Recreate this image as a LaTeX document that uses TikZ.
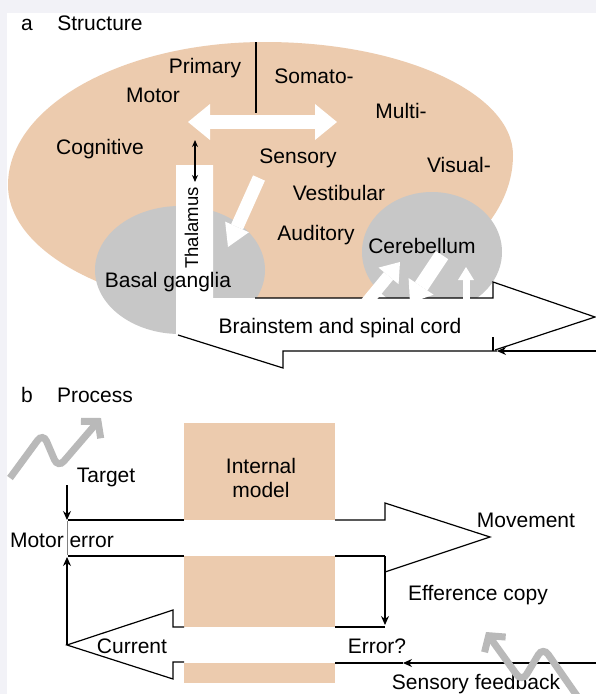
\documentclass[tikz,border=0pt]{standalone}
\usepackage{fontspec}
\setmainfont{Liberation Sans}
\usetikzlibrary{arrows.meta}
\definecolor{tanc}{RGB}{236,203,174}
\definecolor{blobc}{RGB}{199,199,199}
\definecolor{squigc}{RGB}{185,185,185}
\definecolor{marginc}{RGB}{242,242,247}
\begin{document}
\begin{tikzpicture}[x=1pt,y=-1pt,
  lbl/.style={font=\fontsize{21}{25}\selectfont, inner sep=0pt, anchor=base},
  ln/.style={line width=1.2pt, black},
  tip/.style={-{Stealth[length=9pt,width=8pt]}},
  blockarrow/.style n args={3}{white, line width=#1,
     -{Triangle[length=#2,width=#3,line width=0pt]}},
  squig/.style={squigc, line width=7pt, rounded corners=9pt,
     -{Straight Barb[length=11pt,width=26pt]}}]
\useasboundingbox (0,0) rectangle (596,694);
\fill[marginc] (0,0) rectangle (596,694);
\fill[white] (7,13) rectangle (596,694);

% ---------- part a ----------
\coordinate (eT) at (265,42);
\coordinate (eR) at (513,155);
\coordinate (eB) at (262,312);
\coordinate (eL) at (8,185);
\fill[tanc] (eT) .. controls (402,42) and (513,93) .. (eR)
  .. controls (513,242) and (401,312) .. (eB)
  .. controls (122,312) and (8,255) .. (eL)
  .. controls (8,106) and (123,42) .. (eT) -- cycle;
\fill[blobc] (180,270) ellipse [x radius=85pt, y radius=64pt];
\fill[blobc] (432,252) ellipse [x radius=70pt, y radius=60pt];

\coordinate (thTL) at (176,165);
\coordinate (thTR) at (213,165);
\coordinate (bsA) at (213,298);
\coordinate (bsB) at (493,298);
\coordinate (bsC) at (493,282);
\coordinate (bsTip) at (595,317);
\coordinate (bsD) at (497,351);
\coordinate (bsE) at (283,351);
\coordinate (bsF) at (283,368);
\coordinate (bsLTip) at (178,335);
\coordinate (bsG) at (176,335);
\fill[white] (thTL) -- (thTR) -- (bsA) -- (bsB) -- (bsC) -- (bsTip) -- (bsD)
  -- (bsE) -- (bsF) -- (bsLTip) -- (bsG) -- cycle;

\coordinate (divTop) at (256,42);
\coordinate (divBot) at (256,113);
\draw[ln] (divTop) -- (divBot);

\coordinate (topStart) at (255,298);
\draw[ln] (topStart) -- (bsB) -- (bsC) -- (bsTip) -- (495,350);
\draw[ln] (bsLTip) -- (bsF) -- (bsE) -- (bsD);
\coordinate (fbIn) at (596,351);
\draw[ln,tip] (fbIn) -- (bsD);
\coordinate (tickTop) at (493,337);
\coordinate (tickBot) at (493,351);
\draw[ln] (tickTop) -- (tickBot);

% white arrows
\coordinate (haL) at (188,122);
\coordinate (haR) at (337,122);
\draw[white, line width=14pt,
  {Triangle[length=22pt,width=36pt,line width=0pt]}-{Triangle[length=22pt,width=36pt,line width=0pt]}]
  (haL) -- (haR);
\coordinate (sbS) at (259,178);
\coordinate (sbT) at (228,247);
\draw[blockarrow={13pt}{22pt}{26pt}] (sbS) -- (sbT);
\coordinate (c1S) at (362,308);
\coordinate (c1T) at (400,262);
\draw[blockarrow={12pt}{18pt}{26pt}] (c1S) -- (c1T);
\coordinate (c2S) at (442,255);
\coordinate (c2T) at (410,303);
\draw[blockarrow={15pt}{20pt}{30pt}] (c2S) -- (c2T);
\coordinate (c3S) at (466,305);
\coordinate (c3T) at (466,267);
\draw[blockarrow={7pt}{13pt}{16pt}] (c3S) -- (c3T);

\coordinate (thU) at (195,140);
\coordinate (thD) at (195,182);
\draw[line width=1.2pt, {Stealth[length=7pt,width=6pt]}-{Stealth[length=7pt,width=6pt]}] (thU) -- (thD);

\node[lbl] (la) at (27,30) {a};
\node[lbl] (structure) at (100,30) {Structure};
\node[lbl] (primary) at (205,73) {Primary};
\node[lbl] (motor) at (153,102) {Motor};
\node[lbl] (cognitive) at (100,154) {Cognitive};
\node[lbl] (somato) at (314,83) {Somato-};
\node[lbl] (multi) at (401,118) {Multi-};
\node[lbl] (visual) at (459,172) {Visual-};
\node[lbl] (sensory) at (298,163) {Sensory};
\node[lbl] (vestibular) at (339,200) {Vestibular};
\node[lbl] (auditory) at (316,240) {Auditory};
\node[lbl] (cerebellum) at (422,253) {Cerebellum};
\node[lbl] (basal) at (168,287) {Basal ganglia};
\node[lbl, font=\fontsize{18.5}{22}\selectfont, rotate=90] (thalamus) at (198,228) {Thalamus};
\node[lbl] (brainstem) at (340,333) {Brainstem and spinal cord};

% ---------- part b ----------
\fill[tanc] (184,423) rectangle (335,520);
\fill[tanc] (184,556) rectangle (335,627);
\fill[tanc] (184,663) rectangle (335,683);

\coordinate (mA) at (68,520);
\coordinate (mB) at (184,520);
\coordinate (mC) at (335,520);
\coordinate (mD) at (385,520);
\coordinate (mE) at (385,503);
\coordinate (mTip) at (490,537);
\coordinate (mF) at (385,572);
\coordinate (nA) at (68,556);
\coordinate (nB) at (184,556);
\coordinate (nC) at (335,556);
\coordinate (nD) at (385,556);
\coordinate (efT) at (385,625);
\coordinate (pA) at (335,627);
\coordinate (pB) at (385,627);
\draw[ln] (mA) -- (mB);
\draw[ln] (mC) -- (mD) -- (mE) -- (mTip) -- (mF);
\draw[ln] (nA) -- (nB);
\draw[ln] (nC) -- (nD);
\draw[ln,tip] (nD) -- (efT);
\draw[ln] (pA) -- (pB);

\coordinate (erIn) at (596,663);
\coordinate (erMid) at (403,663);
\coordinate (erEnd) at (335,663);
\draw[ln,tip] (erIn) -- (erMid);
\draw[ln] (erMid) -- (erEnd);

\coordinate (cA) at (184,627);
\coordinate (cB) at (173,627);
\coordinate (cC) at (173,610);
\coordinate (cTip) at (67,645);
\coordinate (cD) at (173,679);
\coordinate (cE) at (173,662);
\coordinate (cF) at (184,662);
\draw[ln] (cA) -- (cB) -- (cC) -- (cTip) -- (cD) -- (cE) -- (cF);
\coordinate (upEnd) at (67,557);
\draw[ln,tip] (cTip) -- (upEnd);
\coordinate (tgS) at (67,485);
\coordinate (tgE) at (67,520);
\draw[ln,tip] (tgS) -- (tgE);
\coordinate (meA) at (67,521);
\coordinate (meB) at (67,555);

\node[lbl] (lb) at (27,402) {b};
\node[lbl] (process) at (95,402) {Process};
\node[lbl] (target) at (106,482) {Target};
\node[lbl] (internal) at (261,473) {Internal};
\node[lbl] (model) at (261,497) {model};
\node[lbl] (motorerror) at (62,547) {Motor error};
\draw[gray, line width=0.7pt] (meA) -- (meB);
\node[lbl] (movement) at (526,527) {Movement};
\node[lbl] (efference) at (478,600) {Efference copy};
\node[lbl] (errorq) at (377,653) {Error?};
\node[lbl] (current) at (132,653) {Current};
\node[lbl] (sensoryfb) at (476,689) {Sensory feedback};

\coordinate (s1a) at (10,478);
\coordinate (s1b) at (43,433);
\coordinate (s1c) at (58,468);
\coordinate (s1d) at (101,418);
\draw[squig] (s1a) -- (s1b) -- (s1c) -- (s1d);
\coordinate (s2a) at (582,703);
\coordinate (s2b) at (543,647);
\coordinate (s2c) at (522,682);
\coordinate (s2d) at (486,632);
\draw[squig] (s2a) -- (s2b) -- (s2c) -- (s2d);
\end{tikzpicture}
\end{document}
